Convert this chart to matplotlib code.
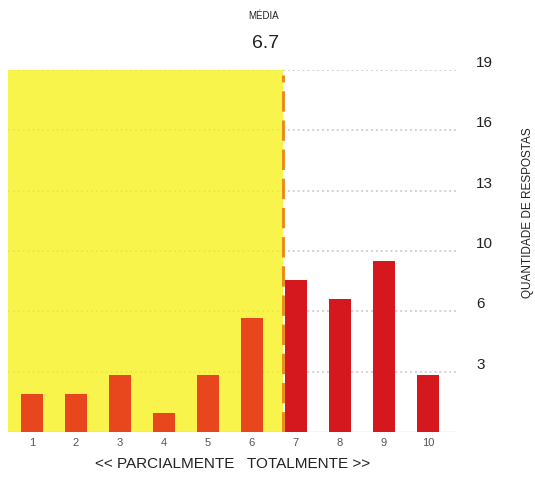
import matplotlib
matplotlib.use('Agg')
import matplotlib.pyplot as plt
import matplotlib.transforms as mtransforms

plt.rcParams['font.family'] = ['Liberation Sans', 'DejaVu Sans']

# notas 1..10 e quantidade de respostas
notas = [1, 2, 3, 4, 5, 6, 7, 8, 9, 10]
respostas = [2, 2, 3, 1, 3, 6, 8, 7, 9, 3]
media = 6.7
ymax = 19
tick_labels = ['3', '6', '10', '13', '16', '19']

cor_parcial = '#E8461C'
cor_total = '#D5171E'
cor_amarelo = '#F8F44C'
cor_media = '#E98A1E'

fig = plt.figure(figsize=(5.35, 4.78), dpi=100)
ax = fig.add_axes([0.015, 0.0962, 0.839, 0.7573])

x0, x1 = 0.455, 10.66
ax.set_xlim(x0, x1)
ax.set_ylim(0, ymax)

# area amarela ate a media
ax.axvspan(x0, media, ymin=0, ymax=1, color=cor_amarelo, zorder=0, lw=0)

# grade pontilhada (valores igualmente espacados, rotulos arredondados)
ticks = [ymax * k / 6 for k in range(1, 7)]
for t in ticks:
    ax.plot([media, x1], [t, t], color='#c4c4c4', lw=1.1, ls=(0, (1.2, 2.0)), zorder=1)
    ax.plot([x0, media], [t, t], color='#ece640', lw=1.1, ls=(0, (1.2, 2.0)), zorder=1)
ax.axhline(0, color='#dccccc', lw=1.0, zorder=1)

cores = [cor_parcial if n < media else cor_total for n in notas]
ax.bar(notas, respostas, width=0.49, color=cores, zorder=3)

ax.axvline(media, color=cor_media, lw=2.1, ls=(0, (7, 3)), zorder=4, ymax=0.985)

for s in ax.spines.values():
    s.set_visible(False)
ax.set_yticks([])
ax.set_xticks(notas)
ax.set_xticklabels([str(n) for n in notas], fontsize=8, color='#555555')
ax.tick_params(axis='x', length=0, pad=4)

# rotulos da direita, acima das linhas
trans = mtransforms.blended_transform_factory(fig.transFigure, ax.transData)
for t, lab in zip(ticks, tick_labels):
    ax.text(476 / 535, t, lab, transform=trans, fontsize=11, color='#222222',
            ha='left', va='bottom')

ax.text(0.5, -0.07, '<< PARCIALMENTE   TOTALMENTE >>', transform=ax.transAxes,
        fontsize=11, color='#222222', ha='center', va='top')

fig.text(528 / 535, 0.555, 'QUANTIDADE DE RESPOSTAS', rotation=90, fontsize=8.5,
         color='#222222', ha='center', va='center')

tm = mtransforms.blended_transform_factory(ax.transData, fig.transFigure)
ax.text(media - 0.08, 1 - 16 / 478, 'MÉDIA', transform=tm, fontsize=7,
        ha='right', va='center', color='#222222')
ax.text(media - 0.08, 1 - 44 / 478, '6.7', transform=tm, fontsize=14,
        ha='right', va='center', color='#222222')

fig.savefig('out.png', dpi=100)
